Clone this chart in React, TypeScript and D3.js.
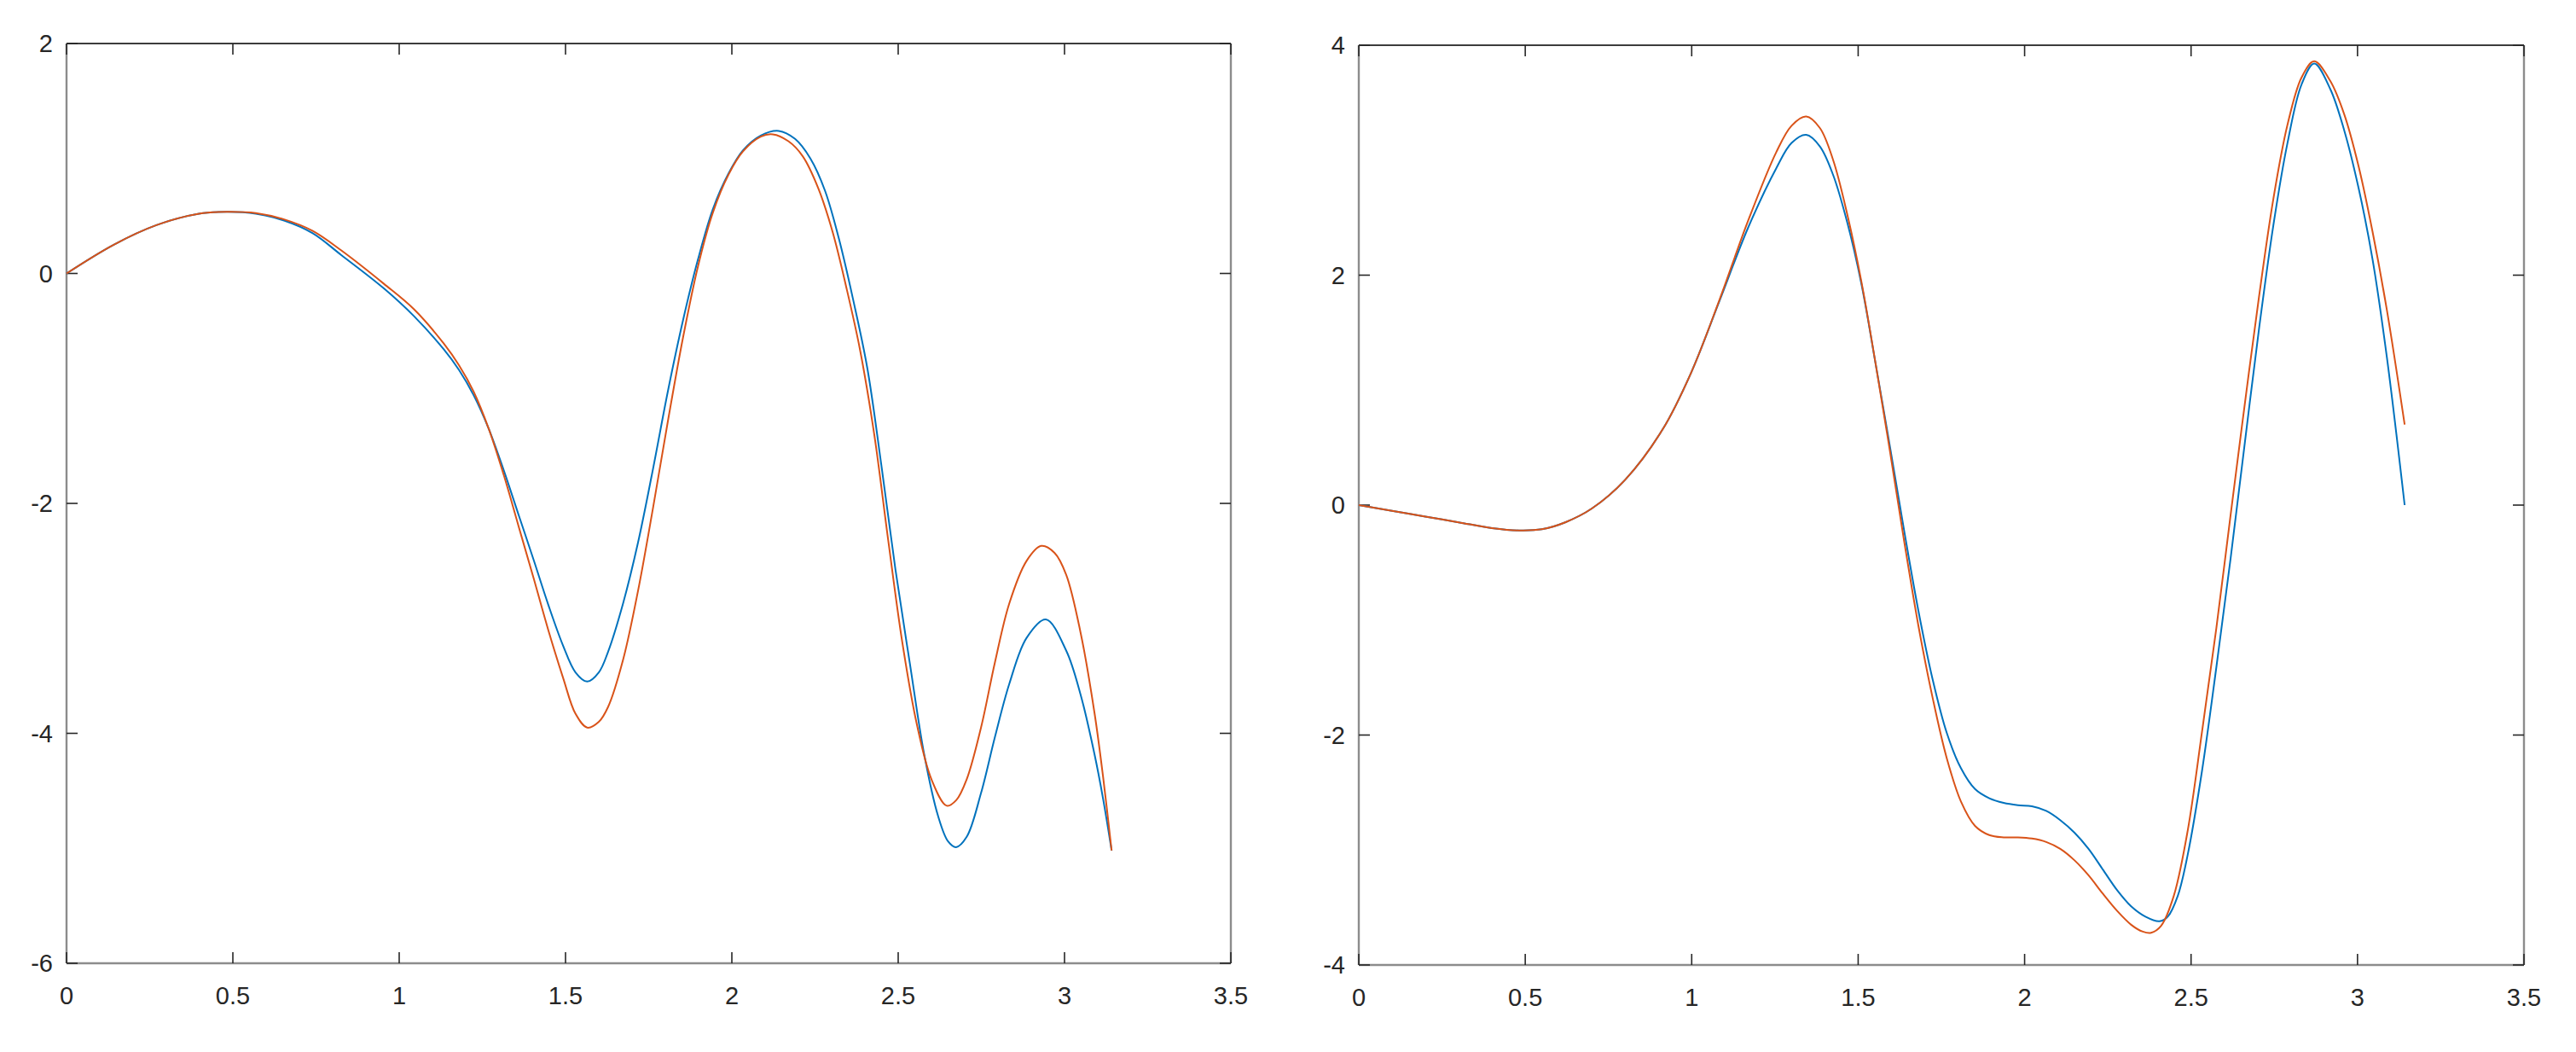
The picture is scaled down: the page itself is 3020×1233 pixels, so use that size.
import React from 'react';
import * as d3 from 'd3';

// values, [x, y]
const leftBlue: [number, number][] = [
  [0, 0], [0.142, 0.25], [0.27, 0.42], [0.398, 0.52], [0.484, 0.536], [0.569, 0.52],
  [0.654, 0.46], [0.74, 0.35], [0.826, 0.16], [0.954, -0.13], [1.044, -0.37], [1.134, -0.66],
  [1.18, -0.84], [1.224, -1.06], [1.269, -1.35], [1.314, -1.71], [1.359, -2.1], [1.404, -2.49],
  [1.448, -2.88], [1.493, -3.24], [1.53, -3.47], [1.565, -3.55], [1.6, -3.47], [1.628, -3.29],
  [1.673, -2.87], [1.718, -2.34], [1.763, -1.7], [1.808, -1.02], [1.853, -0.41], [1.898, 0.12],
  [1.943, 0.56], [1.99, 0.87], [2.033, 1.07], [2.087, 1.2], [2.141, 1.24], [2.19, 1.17],
  [2.236, 1.0], [2.28, 0.72], [2.322, 0.3], [2.364, -0.22], [2.407, -0.82], [2.45, -1.68],
  [2.492, -2.58], [2.535, -3.39], [2.578, -4.18], [2.62, -4.72], [2.65, -4.94], [2.674, -4.99],
  [2.706, -4.9], [2.749, -4.52], [2.791, -4.03], [2.834, -3.57], [2.886, -3.17], [2.944, -3.01],
  [3.005, -3.28], [3.048, -3.66], [3.09, -4.18], [3.116, -4.57], [3.1416, -5.02]
];

const leftOrange: [number, number][] = [
  [0, 0], [0.142, 0.25], [0.27, 0.42], [0.398, 0.52], [0.484, 0.536], [0.569, 0.525],
  [0.654, 0.47], [0.74, 0.37], [0.826, 0.2], [0.954, -0.09], [1.044, -0.31], [1.134, -0.61],
  [1.18, -0.8], [1.224, -1.03], [1.269, -1.35], [1.314, -1.75], [1.359, -2.2], [1.404, -2.65],
  [1.448, -3.1], [1.493, -3.52], [1.53, -3.83], [1.565, -3.95], [1.6, -3.9], [1.628, -3.77],
  [1.673, -3.36], [1.718, -2.76], [1.763, -2.04], [1.808, -1.28], [1.853, -0.56], [1.898, 0.06],
  [1.943, 0.53], [1.99, 0.86], [2.033, 1.06], [2.087, 1.19], [2.123, 1.21], [2.17, 1.15],
  [2.213, 1.02], [2.26, 0.74], [2.303, 0.36], [2.344, -0.12], [2.385, -0.66], [2.428, -1.4],
  [2.47, -2.32], [2.513, -3.22], [2.556, -3.92], [2.6, -4.4], [2.646, -4.63], [2.675, -4.58],
  [2.706, -4.4], [2.749, -3.95], [2.791, -3.38], [2.834, -2.87], [2.886, -2.5], [2.93, -2.37],
  [2.97, -2.43], [3.005, -2.62], [3.048, -3.12], [3.09, -3.82], [3.116, -4.38], [3.1416, -5.02]
];

const rightBlue: [number, number][] = [
  [0, 0], [0.1, -0.05], [0.2, -0.1], [0.3, -0.15], [0.4, -0.2], [0.48, -0.22], [0.55, -0.21],
  [0.62, -0.15], [0.7, -0.03], [0.8, 0.22], [0.913, 0.66], [0.998, 1.15], [1.084, 1.78],
  [1.169, 2.41], [1.254, 2.93], [1.3, 3.15], [1.344, 3.22], [1.385, 3.12], [1.425, 2.87],
  [1.468, 2.45], [1.51, 1.92], [1.553, 1.22], [1.596, 0.5], [1.638, -0.22], [1.681, -0.92],
  [1.724, -1.52], [1.766, -1.98], [1.809, -2.29], [1.851, -2.47], [1.894, -2.55], [1.937, -2.59],
  [1.98, -2.61], [2.022, -2.62], [2.065, -2.66], [2.107, -2.74], [2.15, -2.85], [2.192, -2.99],
  [2.235, -3.17], [2.278, -3.35], [2.32, -3.49], [2.363, -3.58], [2.405, -3.62], [2.43, -3.58],
  [2.46, -3.4], [2.49, -3.04], [2.533, -2.31], [2.576, -1.41], [2.619, -0.46], [2.661, 0.53],
  [2.704, 1.53], [2.747, 2.43], [2.789, 3.14], [2.832, 3.66], [2.87, 3.84], [2.918, 3.62],
  [2.96, 3.26], [3.003, 2.76], [3.045, 2.14], [3.088, 1.29], [3.1416, 0.0]
];

const rightOrange: [number, number][] = [
  [0, 0], [0.1, -0.05], [0.2, -0.1], [0.3, -0.15], [0.4, -0.2], [0.48, -0.22], [0.55, -0.21],
  [0.62, -0.15], [0.7, -0.03], [0.8, 0.22], [0.913, 0.66], [0.998, 1.15], [1.084, 1.79],
  [1.169, 2.47], [1.254, 3.07], [1.3, 3.3], [1.344, 3.38], [1.385, 3.28], [1.425, 3.0],
  [1.468, 2.52], [1.51, 1.94], [1.553, 1.22], [1.596, 0.46], [1.638, -0.31], [1.681, -1.05],
  [1.724, -1.68], [1.766, -2.2], [1.809, -2.58], [1.851, -2.79], [1.894, -2.87], [1.937, -2.89],
  [1.98, -2.89], [2.022, -2.9], [2.065, -2.93], [2.107, -2.99], [2.15, -3.09], [2.192, -3.22],
  [2.235, -3.38], [2.278, -3.53], [2.32, -3.65], [2.355, -3.71], [2.38, -3.72], [2.41, -3.66],
  [2.448, -3.4], [2.49, -2.83], [2.533, -1.97], [2.576, -1.07], [2.619, -0.08], [2.661, 0.87],
  [2.704, 1.81], [2.747, 2.66], [2.789, 3.3], [2.832, 3.72], [2.87, 3.86], [2.918, 3.69],
  [2.96, 3.4], [3.003, 2.95], [3.045, 2.38], [3.088, 1.7], [3.1416, 0.7]
];

const xTicks = [0, 0.5, 1, 1.5, 2, 2.5, 3, 3.5];
const leftYTicks = [-6, -4, -2, 0, 2];
const rightYTicks = [-4, -2, 0, 2, 4];

const BLUE = '#0072BD';
const ORANGE = '#D95319';
const TEXT = '#262626';
const FONT = '"Liberation Sans", Arial, Helvetica, sans-serif';
const TICK = 13;

interface PanelProps {
  left: number;
  right: number;
  top: number;
  bottom: number;
  yDomain: [number, number];
  yTicks: number[];
  series: { data: [number, number][]; color: string }[];
}

const Panel: React.FC<PanelProps> = ({ left, right, top, bottom, yDomain, yTicks, series }) => {
  const x = d3.scaleLinear().domain([0, 3.5]).range([left, right]);
  const y = d3.scaleLinear().domain(yDomain).range([bottom, top]);
  const line = d3.line<[number, number]>()
    .x(d => x(d[0]))
    .y(d => y(d[1]))
    .curve(d3.curveCatmullRom.alpha(0.5));

  return (
    <g>
      {/* frame */}
      <line x1={left} x2={right} y1={top} y2={top} stroke="#3c3c3c" strokeWidth={2} />
      <line x1={left} x2={right} y1={bottom} y2={bottom} stroke="#8c8c8c" strokeWidth={2.4} />
      <line x1={left} x2={left} y1={top} y2={bottom} stroke="#8c8c8c" strokeWidth={2.4} />
      <line x1={right} x2={right} y1={top} y2={bottom} stroke="#8c8c8c" strokeWidth={2.4} />

      {/* x ticks, mirrored on top */}
      {xTicks.map(t => (
        <g key={'x' + t}>
          <line x1={x(t)} x2={x(t)} y1={bottom} y2={bottom - TICK} stroke={TEXT} strokeWidth={1.6} />
          <line x1={x(t)} x2={x(t)} y1={top} y2={top + TICK} stroke={TEXT} strokeWidth={1.6} />
          <text x={x(t)} y={bottom + 48} textAnchor="middle" fontSize={29} fill={TEXT} fontFamily={FONT}>
            {t}
          </text>
        </g>
      ))}

      {/* y ticks, mirrored on right */}
      {yTicks.map(t => (
        <g key={'y' + t}>
          <line x1={left} x2={left + TICK} y1={y(t)} y2={y(t)} stroke={TEXT} strokeWidth={1.6} />
          <line x1={right} x2={right - TICK} y1={y(t)} y2={y(t)} stroke={TEXT} strokeWidth={1.6} />
          <text x={left - 16} y={y(t)} dy="0.36em" textAnchor="end" fontSize={29} fill={TEXT} fontFamily={FONT}>
            {t}
          </text>
        </g>
      ))}

      {series.map((s, i) => (
        <path key={i} d={line(s.data) || ''} fill="none" stroke={s.color} strokeWidth={2} strokeLinejoin="round" />
      ))}
    </g>
  );
};

const App: React.FC = () => {
  return (
    <svg
      width={3020}
      height={1233}
      style={{ position: 'absolute', left: 0, top: 0, background: '#fff' }}
    >
      <rect width={3020} height={1233} fill="#fff" />
      <Panel
        left={78}
        right={1443}
        top={51}
        bottom={1129}
        yDomain={[-6, 2]}
        yTicks={leftYTicks}
        series={[
          { data: leftBlue, color: BLUE },
          { data: leftOrange, color: ORANGE }
        ]}
      />
      <Panel
        left={1593}
        right={2959}
        top={53}
        bottom={1131}
        yDomain={[-4, 4]}
        yTicks={rightYTicks}
        series={[
          { data: rightBlue, color: BLUE },
          { data: rightOrange, color: ORANGE }
        ]}
      />
    </svg>
  );
};

export default App;
